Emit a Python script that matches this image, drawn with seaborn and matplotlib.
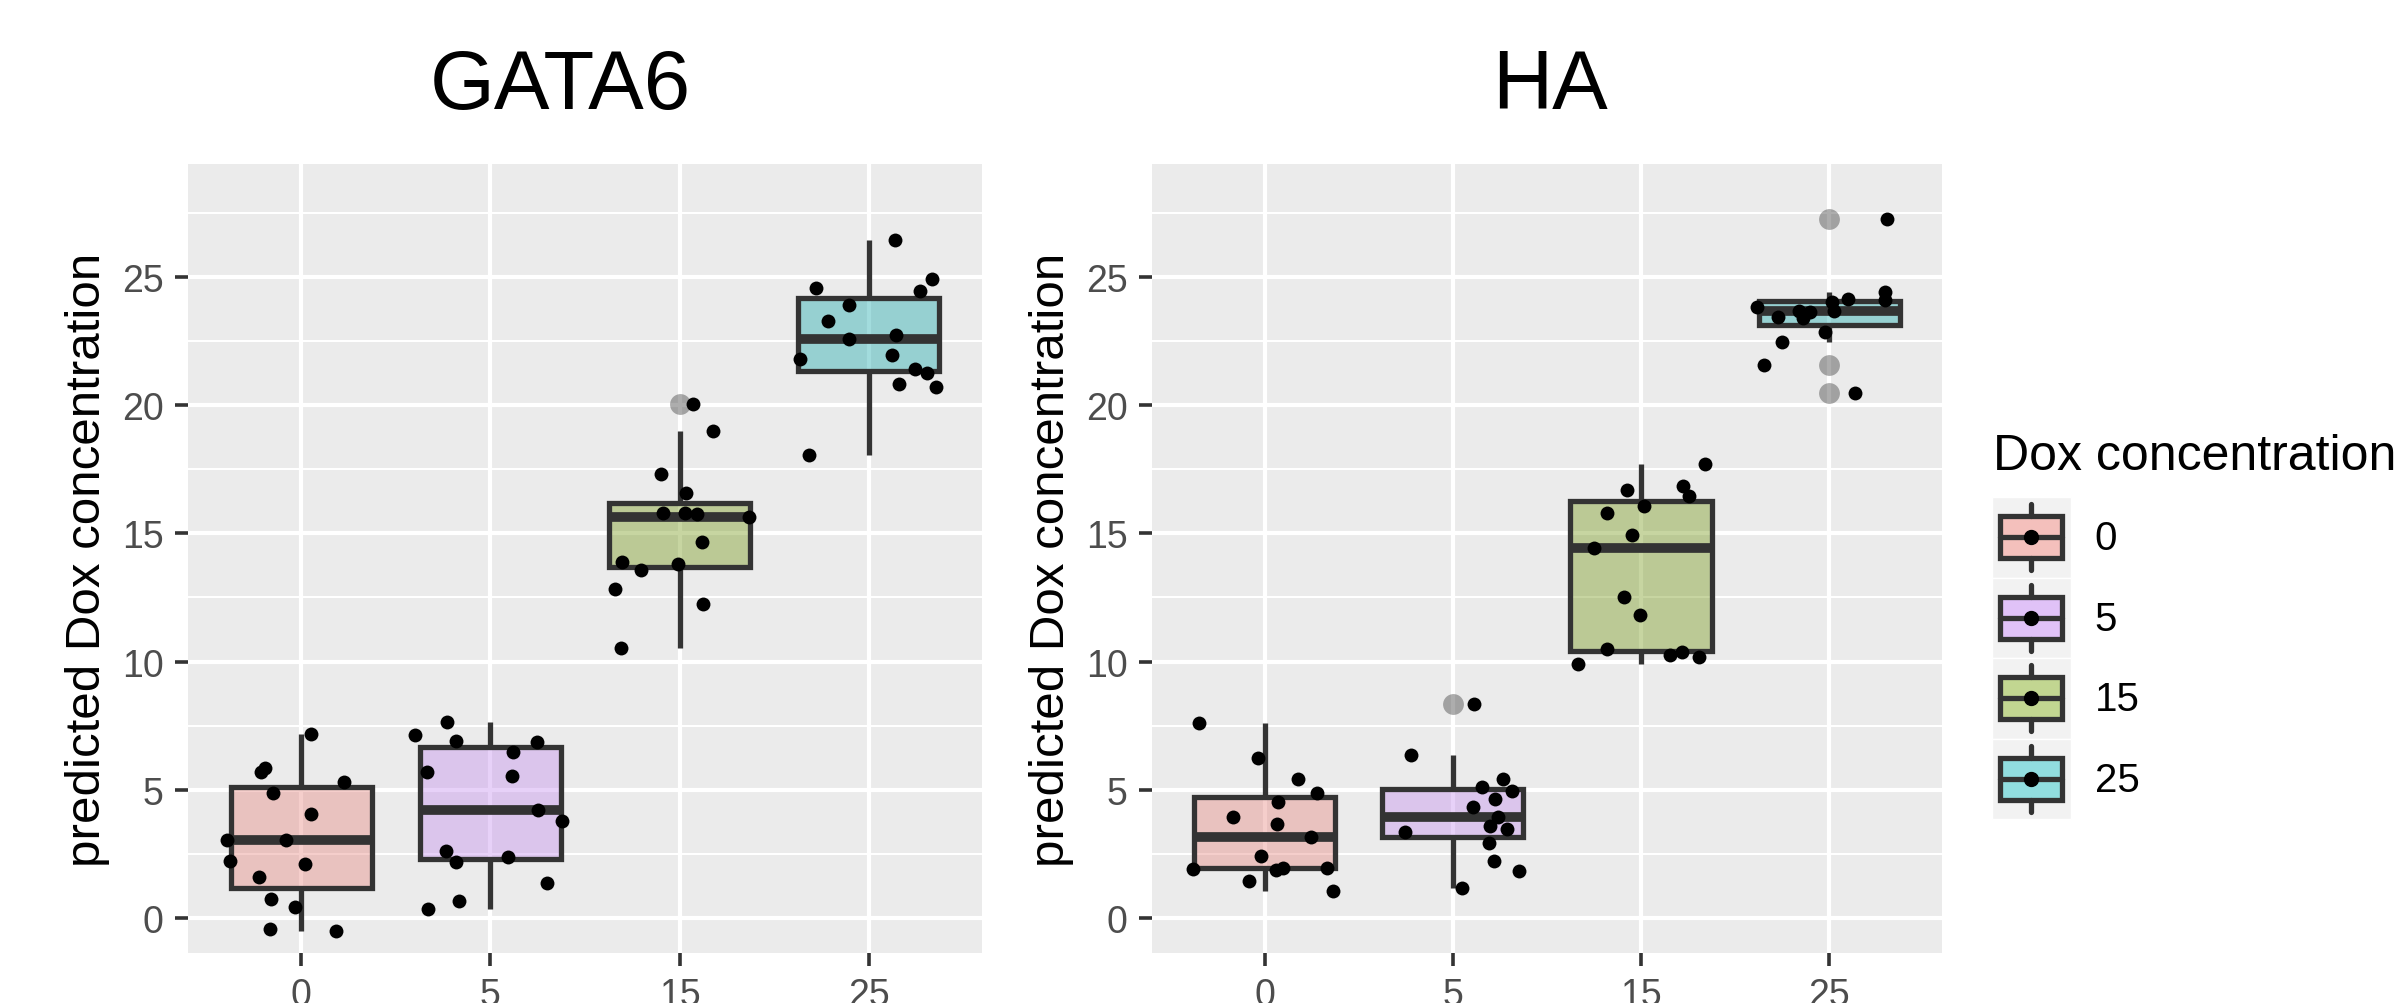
import numpy as np
import pandas as pd
import matplotlib
matplotlib.use("Agg")
import matplotlib.pyplot as plt
import seaborn as sns
from matplotlib.patches import Patch, Rectangle
from matplotlib.lines import Line2D
from matplotlib.legend_handler import HandlerBase
from matplotlib.ticker import MultipleLocator
from matplotlib.colors import to_rgba

# Livelli di Dox e colori (palette di default ggplot)
dox_levels = ["0", "5", "15", "25"]
dox_colors = ["#F8766D", "#C77CFF", "#7CAE00", "#00BFC4"]
gene_titles = ["GATA6", "HA"]

# GATA6: valori predetti e jitter orizzontale (frazione della distanza tra categorie)
gata6_0 = [7.19, 5.85, 5.68, 5.32, 4.89, 4.04, 3.02, 3.04, 2.23, 2.09, 1.60, 0.74, 0.43, -0.43, -0.53]
gata6_0_jit = [0.05, -0.195, -0.215, 0.223, -0.148, 0.05, -0.396, -0.084, -0.376, 0.017, -0.223, -0.162, -0.033, -0.167, 0.184]
gata6_5 = [7.66, 7.13, 6.91, 6.85, 6.47, 5.70, 5.53, 4.21, 3.77, 2.60, 2.19, 2.38, 1.38, 0.64, 0.34]
gata6_5_jit = [-0.231, -0.398, -0.184, 0.248, 0.120, -0.337, 0.114, 0.251, 0.376, -0.237, -0.181, 0.095, 0.301, -0.164, -0.331]
gata6_15 = [20.06, 18.98, 17.30, 16.57, 15.81, 15.81, 15.74, 15.62, 14.66, 13.89, 13.79, 13.57, 12.81, 12.23, 10.51]
gata6_15_jit = [0.070, 0.175, -0.100, 0.033, -0.086, 0.028, 0.092, 0.368, 0.120, -0.306, -0.008, -0.206, -0.343, 0.123, -0.312]
gata6_25 = [26.43, 24.94, 24.57, 24.47, 23.89, 23.28, 22.72, 22.57, 21.94, 21.81, 21.43, 21.26, 20.83, 20.70, 18.04]
gata6_25_jit = [0.139, 0.334, -0.279, 0.273, -0.106, -0.217, 0.145, -0.103, 0.123, -0.362, 0.245, 0.309, 0.159, 0.359, -0.315]

# HA
ha_0 = [7.62, 6.23, 5.43, 4.89, 4.53, 3.94, 3.68, 3.15, 2.40, 1.96, 1.85, 1.91, 1.96, 1.45, 1.06]
ha_0_jit = [-0.348, -0.036, 0.178, 0.275, 0.072, -0.167, 0.064, 0.245, -0.022, 0.097, 0.061, -0.381, 0.331, -0.086, 0.362]
ha_5 = [8.36, 6.34, 5.43, 5.11, 4.96, 4.64, 4.32, 3.94, 3.57, 3.45, 3.36, 2.94, 2.23, 1.81, 1.17]
ha_5_jit = [0.114, -0.223, 0.267, 0.153, 0.314, 0.223, 0.108, 0.242, 0.195, 0.289, -0.253, 0.192, 0.220, 0.353, 0.047]
ha_15 = [17.70, 16.85, 16.70, 16.45, 16.06, 15.79, 14.94, 14.43, 12.51, 11.83, 10.49, 10.26, 10.36, 10.17, 9.89]
ha_15_jit = [0.342, 0.225, -0.075, 0.253, 0.017, -0.181, -0.050, -0.248, -0.092, -0.006, -0.181, 0.156, 0.217, 0.309, -0.334]
ha_25 = [27.28, 24.43, 24.11, 24.15, 24.04, 23.83, 23.66, 23.66, 23.62, 23.45, 23.40, 22.87, 22.47, 21.55, 20.47]
ha_25_jit = [0.309, 0.295, 0.300, 0.100, 0.017, -0.381, 0.028, -0.159, -0.103, -0.270, -0.136, -0.019, -0.248, -0.345, 0.136]

gene_groups = {
    "GATA6": [(gata6_0, gata6_0_jit), (gata6_5, gata6_5_jit), (gata6_15, gata6_15_jit), (gata6_25, gata6_25_jit)],
    "HA": [(ha_0, ha_0_jit), (ha_5, ha_5_jit), (ha_15, ha_15_jit), (ha_25, ha_25_jit)],
}

rows = []
for gene, groups in gene_groups.items():
    for i, (vals, jits) in enumerate(groups):
        for v, j in zip(vals, jits):
            rows.append({"gene": gene, "dox": dox_levels[i], "value": v, "xpos": i + j})
df = pd.DataFrame(rows)

# Stile tipo ggplot
sns.set_theme(style="darkgrid", rc={
    "axes.facecolor": "#EBEBEB",
    "grid.color": "white",
    "axes.edgecolor": "none",
    "text.color": "black",
    "axes.labelcolor": "black",
})
plt.rcParams["font.family"] = ["Liberation Sans", "DejaVu Sans"]

palette = dict(zip(dox_levels, dox_colors))
LINE = "#333333"
LW = 3.8


class BoxKeyHandler(HandlerBase):
    # chiave della legenda disegnata come un piccolo boxplot
    def create_artists(self, legend, orig_handle, xdescent, ydescent, width, height, fontsize, trans):
        x0, y0 = -xdescent, -ydescent
        cx, cy = x0 + width / 2, y0 + height / 2
        bw, bh = width * 0.79, height * 0.52
        bg = Rectangle((x0, y0), width, height, facecolor="#F2F2F2", edgecolor="white",
                       linewidth=1.0, transform=trans)
        box = Rectangle((cx - bw / 2, cy - bh / 2), bw, bh,
                        facecolor=to_rgba(orig_handle.get_facecolor(), 0.4),
                        edgecolor=LINE, linewidth=LW, transform=trans)
        w_top = Line2D([cx, cx], [cy + bh / 2, y0 + height * 0.91], color=LINE, lw=LW, transform=trans)
        w_bot = Line2D([cx, cx], [y0 + height * 0.09, cy - bh / 2], color=LINE, lw=LW, transform=trans)
        med = Line2D([cx - bw / 2, cx + bw / 2], [cy, cy], color=LINE, lw=LW, transform=trans)
        dot = Line2D([cx], [cy], marker="o", color="black", markersize=10, linestyle="none", transform=trans)
        return [bg, box, w_top, w_bot, med, dot]


fig = plt.figure(figsize=(23.98, 10.04), dpi=100)
ax1 = fig.add_axes([0.0784, 0.0498, 0.3311, 0.7859])
ax2 = fig.add_axes([0.4804, 0.0498, 0.3294, 0.7859])

for ax, gene in zip([ax1, ax2], gene_titles):
    sub = df[df["gene"] == gene]
    sns.boxplot(
        data=sub, x="dox", y="value", hue="dox", order=dox_levels, hue_order=dox_levels,
        palette=palette, width=0.75, linecolor=LINE, linewidth=LW,
        showcaps=False, fliersize=15, legend=False,
        flierprops=dict(marker="o", markersize=15, markerfacecolor=LINE,
                        markeredgecolor="none", alpha=0.4),
        medianprops=dict(linewidth=7), ax=ax,
    )
    for p in ax.patches:
        p.set_facecolor(to_rgba(p.get_facecolor(), 0.4))
    sns.scatterplot(data=sub, x="xpos", y="value", color="black", s=100, linewidth=0,
                    zorder=4, legend=False, ax=ax)

    ax.set_xlim(-0.6, 3.6)
    ax.set_ylim(-1.37, 29.41)
    ax.set_xticks(range(len(dox_levels)))
    ax.set_xticklabels(dox_levels)
    ax.yaxis.set_major_locator(MultipleLocator(5))
    ax.yaxis.set_minor_locator(MultipleLocator(2.5))
    ax.grid(True, which="major", color="white", linewidth=3.0)
    ax.grid(True, which="minor", axis="y", color="white", linewidth=1.5)
    ax.set_axisbelow(True)
    for s in ax.spines.values():
        s.set_visible(False)
    ax.tick_params(which="major", length=9.4, width=2.6, color=LINE, labelcolor="#4D4D4D",
                   labelsize=27, pad=8, left=True, bottom=True)
    ax.tick_params(which="minor", length=0)
    ax.set_xlabel("")
    ax.set_ylabel("predicted Dox concentration", fontsize=35.5, color="black", labelpad=9)

# Titoli dei pannelli
fig.text(560 / 2398, 1 - 109 / 1004, "GATA6", ha="center", va="baseline", fontsize=60)
fig.text(1550 / 2398, 1 - 109 / 1004, "HA", ha="center", va="baseline", fontsize=60)

# Legenda con chiavi a boxplot
handles = [Patch(facecolor=c) for c in dox_colors]
fig.text(1993 / 2398, 1 - 470 / 1004, "Dox concentration", ha="left", va="baseline", fontsize=36)
fig.legend(handles, dox_levels, handler_map={Patch: BoxKeyHandler()},
           loc="upper left", bbox_to_anchor=(1992 / 2398, 1 - 498 / 1004),
           frameon=False, fontsize=29, handlelength=1.95, handleheight=2.7,
           labelspacing=0.0, handletextpad=0.6, borderpad=0, borderaxespad=0)

fig.savefig("out.png", dpi=100)
